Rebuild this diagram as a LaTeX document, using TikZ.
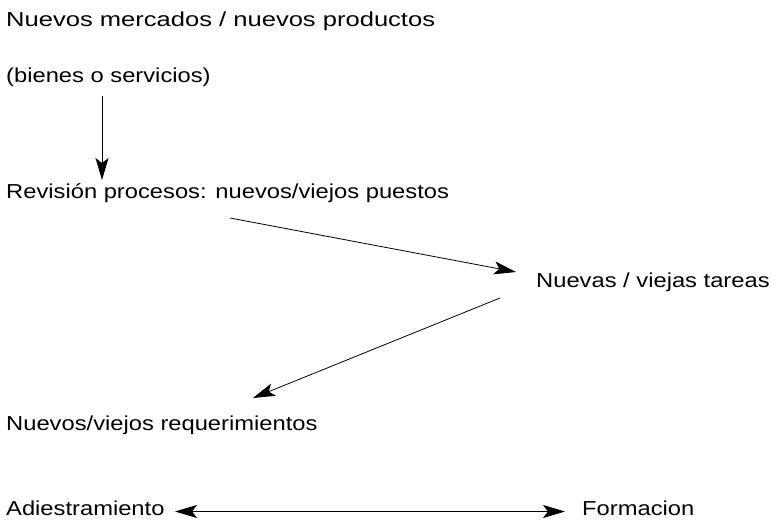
\documentclass[tikz,border=0pt]{standalone}
\usepackage{fontspec}
\setmainfont{Liberation Sans}
\usepackage{graphicx}
\usetikzlibrary{arrows.meta,calc}

\newcommand{\ancho}[2][1.175]{\scalebox{#1}[1]{#2}}

\begin{document}
\begin{tikzpicture}[x=1pt,y=-1pt,
    texto/.style={anchor=base west,inner sep=0pt,font=\fontsize{20.2}{24}\selectfont},
    punta/.tip={Stealth[length=22pt,width=13pt,inset=5pt]},
    flecha/.style={line width=0.8pt,-punta}]
    \useasboundingbox (0,0) rectangle (772,522);

    % -- Textos --
    \node[texto] (mercados) at (6,27) {\ancho[1.265]{Nuevos mercados / nuevos productos}};
    \node[texto] (bienes) at (6,82) {\ancho{(bienes o servicios)}};
    \node[texto] (revision) at (6,198) {\ancho{Revisión procesos: nuevos/viejos puestos}};
    \node[texto] (tareas) at (536,287) {\ancho{Nuevas / viejas tareas}};
    \node[texto] (requer) at (6,430) {\ancho{Nuevos/viejos requerimientos}};
    \node[texto] (adiest) at (6,515) {\ancho{Adiestramiento}};
    \node[texto] (formacion) at (582,515) {\ancho{Formacion}};

    % -- Flechas --
    \draw[flecha] ($(bienes.base west)+(96,14)$) -- ($(revision.base west)+(96,-18)$);
    \draw[flecha] ($(revision.base west)+(224,20)$) -- ($(tareas.base west)+(-20,-15)$);
    \draw[flecha] ($(tareas.base west)+(-36,11)$) -- ($(requer.base west)+(247,-32)$);
    \draw[flecha,punta-punta] ($(adiest.base west)+(169,-3.5)$) -- ($(formacion.base west)+(-17,-3.5)$);
\end{tikzpicture}
\end{document}
